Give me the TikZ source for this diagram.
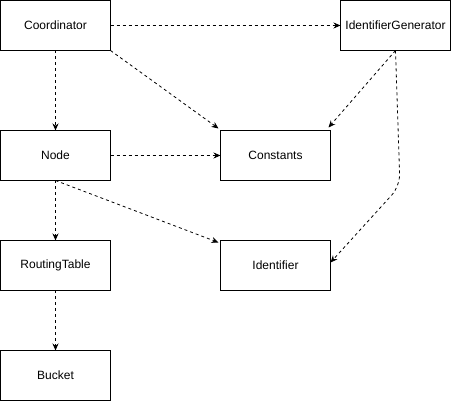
\documentclass[tikz,border=0pt]{standalone}
\usepackage{fontspec}
\setmainfont{Liberation Sans}
\usetikzlibrary{arrows.meta,positioning}

\begin{document}
\begin{tikzpicture}[x=1pt,y=1pt]

\tikzset{class/.style={draw, line width=0.9pt, minimum width=110pt, minimum height=50pt,
                       inner sep=0pt, outer sep=0pt, font=\fontsize{12}{14}\selectfont},
         uses/.style={-{Stealth[length=7pt,width=6pt]}, dashed, dash pattern=on 3pt off 3pt, line width=0.8pt}}

\useasboundingbox (0,0) rectangle (451,401);

\node[class] (coordinator) at (55.5,375.5) {Coordinator};
\node[class] (idgen) at (395.5,375.5) {IdentifierGenerator};
\node[class] (node) at (55.5,245.5) {Node};
\node[class] (constants) at (275.5,245.5) {Constants};
\node[class] (routing) at (55.5,135.5) {RoutingTable};
\node[class] (identifier) at (275.5,135.5) {Identifier};
\node[class] (bucket) at (55.5,25.5) {Bucket};

\coordinate (bend) at (400,215);

\draw[uses] (coordinator.east) -- (idgen.west);
\draw[uses] (coordinator.south) -- (node.north);
\draw[uses] (coordinator.south east) -- ([xshift=-2pt,yshift=2pt]constants.north west);
\draw[uses] (idgen.south) -- ([xshift=-2pt,yshift=3pt]constants.north east);
\draw[uses, rounded corners=12pt] (idgen.south) -- (bend) -- ([yshift=3pt]identifier.east);
\draw[uses] (node.east) -- (constants.west);
\draw[uses] (node.south) -- ([xshift=-2pt,yshift=-2pt]identifier.north west);
\draw[uses] (node.south) -- (routing.north);
\draw[uses] (routing.south) -- (bucket.north);

\end{tikzpicture}
\end{document}
